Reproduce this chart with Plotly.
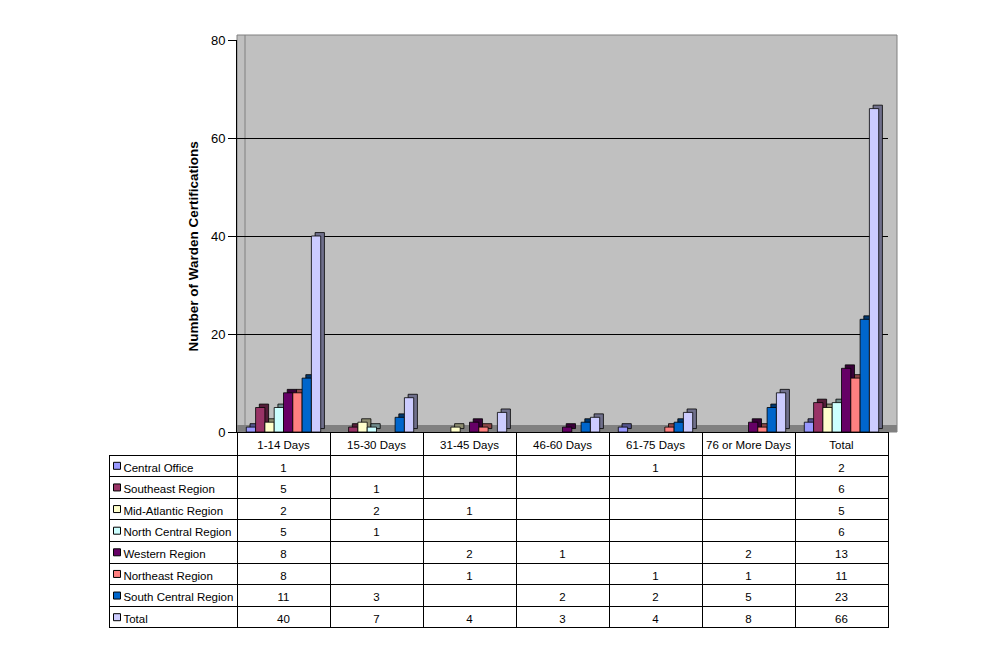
import plotly.graph_objects as go

categorias = ['1-14 Days', '15-30 Days', '31-45 Days', '46-60 Days',
              '61-75 Days', '76 or More Days', 'Total']
series = ['Central Office', 'Southeast Region', 'Mid-Atlantic Region',
          'North Central Region', 'Western Region', 'Northeast Region',
          'South Central Region', 'Total']
central_office = [1, None, None, None, 1, None, 2]
southeast = [5, 1, None, None, None, None, 6]
mid_atlantic = [2, 2, 1, None, None, None, 5]
north_central = [5, 1, None, None, None, None, 6]
western = [8, None, 2, 1, None, 2, 13]
northeast = [8, None, 1, None, 1, 1, 11]
south_central = [11, 3, None, 2, 2, 5, 23]
total = [40, 7, 4, 3, 4, 8, 66]
valores = [central_office, southeast, mid_atlantic, north_central,
           western, northeast, south_central, total]
cores = ['#9999FF', '#993366', '#FFFFCC', '#CCFFFF',
         '#660066', '#FF8080', '#0066CC', '#CCCCFF']
y_ticks = [0, 20, 40, 60, 80]

W, H = 1006, 663
FONTE = 'Liberation Sans, Arial, sans-serif'
NBSP = '\u00a0'


def px_x(p):
    return p / W


def px_y(p):
    return 1 - p / H


def escurecer(hexcor, f=0.55):
    r, g, b = (int(hexcor[i:i + 2], 16) for i in (1, 3, 5))
    return '#%02x%02x%02x' % (int(r * f), int(g * f), int(b * f))


largura = 0.1      # largura de cada barra (unidade de categoria)
inicio = -0.40     # deslocamento da primeira barra do grupo
prof_x = 0.04      # profundidade "3D" horizontal
prof_y = 0.7       # profundidade "3D" vertical

fig = go.Figure()

for i, (nome, vals, cor) in enumerate(zip(series, valores, cores)):
    off = inicio + i * largura
    # face lateral/topo (efeito 3D)
    fig.add_trace(go.Bar(
        x=categorias, y=vals, base=prof_y, offset=off + prof_x, width=largura,
        marker=dict(color=escurecer(cor), line=dict(color='black', width=0.8)),
        showlegend=False, hoverinfo='skip'
    ))
    # face frontal
    fig.add_trace(go.Bar(
        x=categorias, y=vals, offset=off, width=largura, name=nome,
        marker=dict(color=cor, line=dict(color='black', width=0.8)),
        showlegend=False
    ))


# tabela de dados abaixo do grafico
def fmt(v):
    return '' if v is None else str(v)


col_rotulos = [NBSP * 2 + s.replace(' ', NBSP) for s in series]
colunas = [col_rotulos]
for j in range(len(categorias)):
    colunas.append([fmt(vals[j]) for vals in valores])

n_cat = len(categorias)
fig.add_trace(go.Table(
    domain=dict(x=[px_x(109), px_x(888)], y=[px_y(632), px_y(432)]),
    columnwidth=[128] + [93] * n_cat,
    header=dict(values=[''] + [c.replace(' ', NBSP) for c in categorias],
                height=23, align='center',
                fill_color=['rgba(0,0,0,0)'] + ['white'] * n_cat,
                line=dict(color=['rgba(0,0,0,0)'] + ['black'] * n_cat, width=1),
                font=dict(family=FONTE, size=11.5, color='black')),
    cells=dict(values=colunas, height=21.6,
               align=['left'] + ['center'] * n_cat,
               fill_color=['rgba(0,0,0,0)'] + ['white'] * n_cat,
               line=dict(color='black', width=1),
               font=dict(family=FONTE, size=11.5, color='black'))
))

# quadradinhos da legenda dentro da tabela
fig.add_trace(go.Scatter(
    x=[1] * len(series), y=series, xaxis='x2', yaxis='y2',
    mode='markers', hoverinfo='skip', showlegend=False,
    marker=dict(symbol='square', size=7, color=cores,
                line=dict(color='black', width=1))
))

# paredes e chao do grafico 3D
fig.add_shape(type='rect', xref='paper', yref='paper', layer='below',
              x0=px_x(237), x1=px_x(897), y0=px_y(432), y1=px_y(35),
              fillcolor='#C0C0C0', line=dict(color='#808080', width=1))
fig.add_shape(type='line', xref='paper', yref='paper', layer='below',
              x0=px_x(245), x1=px_x(245), y0=px_y(425), y1=px_y(35),
              line=dict(color='#808080', width=1))
fig.add_shape(type='rect', xref='paper', yref='paper', layer='below',
              x0=px_x(237), x1=px_x(897), y0=px_y(432), y1=px_y(425),
              fillcolor='#808080', line=dict(width=0))

# titulo do eixo Y
fig.add_annotation(text='Number of Warden Certifications',
                   xref='paper', yref='paper', x=px_x(183), y=px_y(247),
                   textangle=-90, showarrow=False,
                   font=dict(family=FONTE, size=13.5, color='black',
                             weight='bold'))

fig.update_layout(
    width=W, height=H,
    margin=dict(l=0, r=0, t=0, b=0, pad=0, autoexpand=False),
    paper_bgcolor='white', plot_bgcolor='rgba(0,0,0,0)',
    barmode='overlay',
    font=dict(family=FONTE, size=12, color='black'),
    xaxis=dict(domain=[px_x(237), px_x(888)], range=[-0.5, 6.5],
               showticklabels=False, showgrid=False, zeroline=False,
               showline=True, linecolor='black', ticks='', automargin=False),
    yaxis=dict(domain=[px_y(432), px_y(40)], range=[0, 80],
               tickvals=y_ticks, ticks='outside', ticklen=8,
               tickcolor='black', showline=True, linecolor='black',
               gridcolor='black', gridwidth=1, zeroline=False,
               tickfont=dict(size=13), automargin=False),
    xaxis2=dict(domain=[px_x(109), px_x(237)], range=[-7, 121],
                visible=False, fixedrange=True, automargin=False),
    yaxis2=dict(domain=[px_y(628), px_y(455)], range=[7.5, -0.5],
                type='category', categoryarray=series,
                visible=False, fixedrange=True, automargin=False),
)

fig.write_html('out.html', config={'displayModeBar': False},
               post_script="document.body.style.margin='0';")
